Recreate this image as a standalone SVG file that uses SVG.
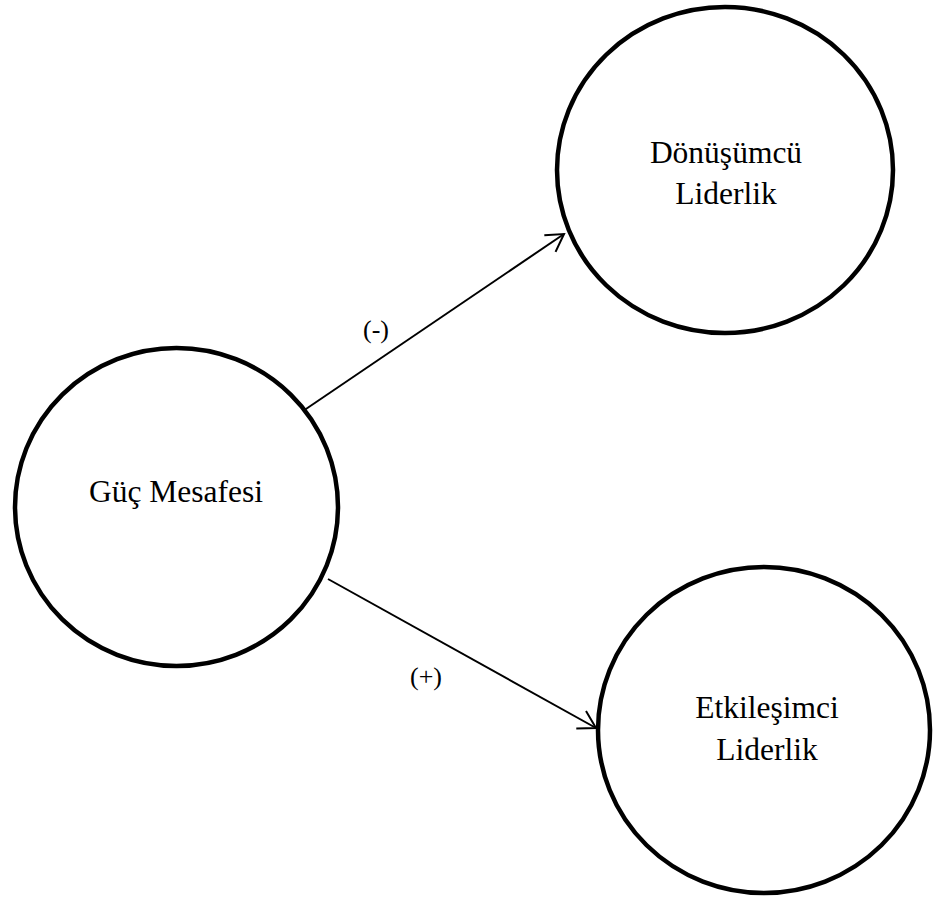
<svg xmlns="http://www.w3.org/2000/svg" width="934" height="898" viewBox="0 0 934 898">
  <style>
    .node { fill: #ffffff; stroke: #000000; stroke-width: 4.5; }
    .label { font-family: "Liberation Serif", "Times New Roman", serif; font-size: 31.5px; fill: #000000; text-anchor: middle; }
    .edge { stroke: #000000; stroke-width: 2; fill: none; marker-end: url(#arrow); }
    .sign { font-family: "Liberation Serif", "Times New Roman", serif; font-size: 26px; fill: #000000; text-anchor: middle; }
  </style>
  <defs>
    <marker id="arrow" markerUnits="userSpaceOnUse" markerWidth="24" markerHeight="24" viewBox="-20 -12 24 24" refX="0" refY="0" orient="auto">
      <path d="M-17,-10 L0,0 L-17,10" fill="none" stroke="#000000" stroke-width="2"/>
    </marker>
  </defs>
  <rect width="934" height="898" fill="#ffffff"/>

  <g id="connectors">
    <line class="edge" x1="303" y1="411" x2="564" y2="234"/>
    <line class="edge" x1="328" y1="579" x2="596" y2="728"/>
    <text class="sign" x="376" y="338">(-)</text>
    <text class="sign" x="426" y="685">(+)</text>
  </g>

  <g id="guc-mesafesi">
    <ellipse class="node" cx="176.5" cy="507" rx="161.5" ry="159"/>
    <text class="label" x="176" y="502">Güç Mesafesi</text>
  </g>

  <g id="donusumcu-liderlik">
    <ellipse class="node" cx="725" cy="170" rx="168" ry="163"/>
    <text class="label" x="726" y="163">Dönüşümcü</text>
    <text class="label" x="726" y="204">Liderlik</text>
  </g>

  <g id="etkilesimci-liderlik">
    <ellipse class="node" cx="764" cy="730" rx="166" ry="163"/>
    <text class="label" x="767" y="718">Etkileşimci</text>
    <text class="label" x="767" y="760">Liderlik</text>
  </g>
</svg>
